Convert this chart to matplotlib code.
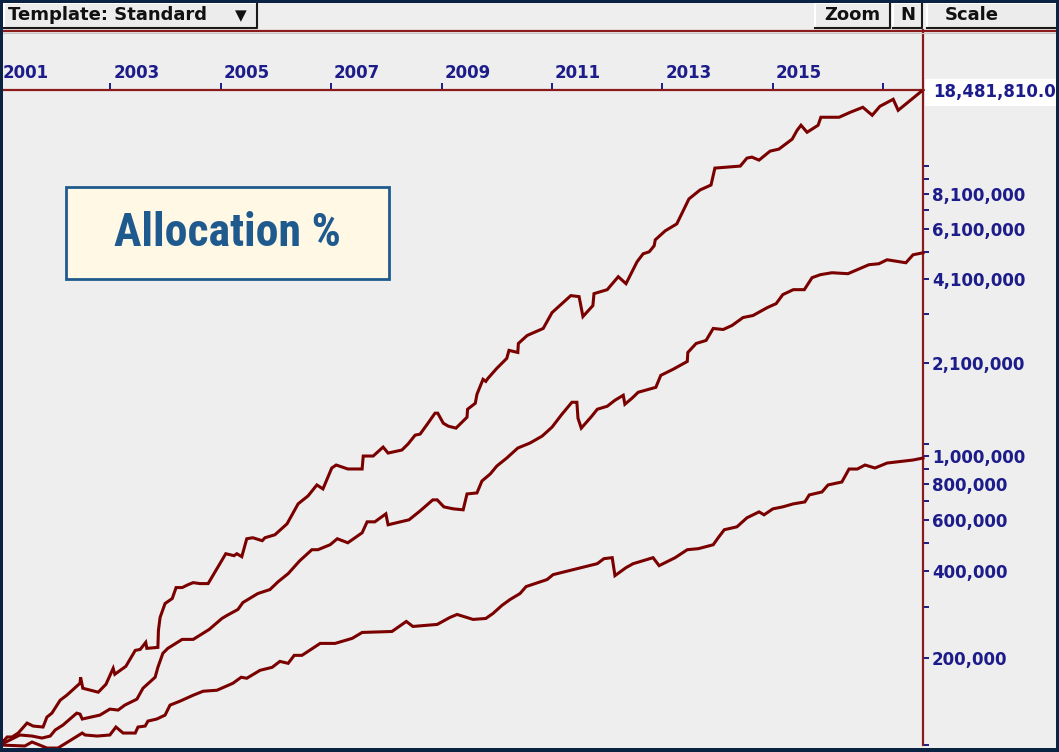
import matplotlib
matplotlib.use("Agg")
import matplotlib.pyplot as plt
from matplotlib.patches import Rectangle
from matplotlib.lines import Line2D
from matplotlib import font_manager as fm
from matplotlib.transforms import ScaledTranslation
import matplotlib.ticker as mticker

# ---------------- data ----------------
top_years = [2001.00, 2001.13, 2001.22, 2001.33, 2001.49, 2001.60, 2001.78, 2001.85, 2001.94, 2002.09,
             2002.21, 2002.45, 2002.46, 2002.50, 2002.78, 2002.92, 2003.05, 2003.08, 2003.28, 2003.45,
             2003.54, 2003.64, 2003.66, 2003.86, 2003.87, 2003.90, 2003.99, 2004.12, 2004.19, 2004.30,
             2004.41, 2004.50, 2004.62, 2004.77, 2005.09, 2005.24, 2005.29, 2005.38, 2005.47, 2005.58,
             2005.75, 2005.80, 2005.98, 2006.20, 2006.40, 2006.58, 2006.74, 2006.85, 2007.01, 2007.09,
             2007.30, 2007.56, 2007.58, 2007.76, 2007.94, 2008.03, 2008.28, 2008.39, 2008.52, 2008.61,
             2008.74, 2008.88, 2008.93, 2009.03, 2009.12, 2009.26, 2009.46, 2009.47, 2009.61, 2009.64,
             2009.75, 2009.80, 2009.84, 2010.00, 2010.18, 2010.22, 2010.38, 2010.39, 2010.55, 2010.84,
             2011.00, 2011.34, 2011.49, 2011.56, 2011.74, 2011.76, 2012.00, 2012.20, 2012.34, 2012.54,
             2012.65, 2012.76, 2012.85, 2012.87, 2013.05, 2013.26, 2013.48, 2013.68, 2013.88, 2013.95,
             2014.41, 2014.53, 2014.62, 2014.75, 2014.95, 2015.11, 2015.35, 2015.44, 2015.51, 2015.62,
             2015.82, 2015.87, 2016.20, 2016.40, 2016.63, 2016.80, 2016.94, 2017.18, 2017.27, 2017.72]
top_values = [100000, 106600, 106600, 110000, 119100, 116300, 115400, 124900, 128900, 142900,
              148700, 163600, 171600, 157200, 152300, 162300, 184200, 175700, 187200, 212500,
              214200, 226500, 216000, 217700, 249100, 276400, 308800, 321300, 350600, 350600,
              359000, 364700, 361900, 361900, 459200, 452000, 459200, 448400, 517400, 521500,
              509400, 521500, 534000, 582800, 683100, 727800, 794300, 769500, 909100, 931000,
              902000, 902000, 1000000, 1000000, 1074000, 1024000, 1049000, 1100000, 1181000, 1191000,
              1289000, 1407000, 1407000, 1299000, 1269000, 1249000, 1363000, 1452000, 1523000, 1636000,
              1843000, 1813000, 1858000, 2012000, 2178000, 2321000, 2283000, 2452000, 2614000, 2764000,
              3136000, 3591000, 3562000, 3039000, 3317000, 3648000, 3765000, 4175000, 3949000, 4701000,
              5011000, 5090000, 5341000, 5600000, 6017000, 6359000, 7759000, 8330000, 8668000, 9920000,
              10080000, 10740000, 10826000, 10570000, 11356000, 11540000, 12494000, 13412000, 13958000, 13197000,
              13958000, 14874000, 14874000, 15469000, 16103000, 15112000, 16232000, 17166000, 15722000, 18481810]

mid_years = [2001.00, 2001.36, 2001.58, 2001.76, 2001.91, 2002.00, 2002.14, 2002.39, 2002.45, 2002.49,
             2002.81, 2002.99, 2003.14, 2003.26, 2003.48, 2003.59, 2003.81, 2003.86, 2003.95, 2004.04,
             2004.30, 2004.50, 2004.79, 2005.02, 2005.11, 2005.31, 2005.40, 2005.67, 2005.89, 2006.04,
             2006.22, 2006.43, 2006.65, 2006.76, 2006.98, 2007.11, 2007.30, 2007.56, 2007.65, 2007.79,
             2007.99, 2008.03, 2008.41, 2008.61, 2008.84, 2008.92, 2009.04, 2009.21, 2009.39, 2009.46,
             2009.64, 2009.73, 2009.88, 2010.00, 2010.18, 2010.38, 2010.60, 2010.82, 2011.00, 2011.18,
             2011.36, 2011.45, 2011.47, 2011.53, 2011.72, 2011.82, 2012.00, 2012.14, 2012.29, 2012.32,
             2012.45, 2012.56, 2012.88, 2012.97, 2013.19, 2013.45, 2013.46, 2013.61, 2013.79, 2013.92,
             2014.10, 2014.26, 2014.46, 2014.64, 2014.90, 2015.06, 2015.18, 2015.37, 2015.57, 2015.71,
             2015.86, 2016.07, 2016.36, 2016.74, 2016.92, 2017.07, 2017.41, 2017.54, 2017.72]
mid_values = [100000, 108300, 107400, 105700, 107400, 112700, 117200, 128900, 127900, 123000,
              126900, 133100, 132100, 137400, 144100, 157200, 171600, 185700, 207600, 216000,
              232000, 232000, 251200, 274100, 280700, 294500, 311200, 334300, 345100, 367600,
              391800, 434200, 474100, 474100, 493200, 517400, 501000, 542500, 592000, 592000,
              630900, 578200, 601700, 645800, 705200, 705200, 667000, 656600, 651500, 739400,
              745300, 819500, 866700, 923600, 984300, 1066000, 1109000, 1172000, 1259000, 1396000,
              1535000, 1535000, 1352000, 1249000, 1374000, 1452000, 1487000, 1560000, 1623000, 1511000,
              1586000, 1662000, 1729000, 1902000, 1995000, 2125000, 2283000, 2452000, 2512000, 2764000,
              2741000, 2830000, 3015000, 3064000, 3264000, 3369000, 3619000, 3765000, 3765000, 4142000,
              4242000, 4309000, 4276000, 4593000, 4629000, 4778000, 4665000, 4972000, 5051000]

low_years = [2001.00, 2001.45, 2001.58, 2001.76, 2001.85, 2002.05, 2002.49, 2002.54, 2002.76, 2002.99,
             2003.10, 2003.23, 2003.45, 2003.50, 2003.63, 2003.68, 2003.84, 2003.99, 2004.08, 2004.26,
             2004.50, 2004.68, 2004.93, 2005.22, 2005.37, 2005.47, 2005.71, 2005.93, 2006.07, 2006.22,
             2006.33, 2006.47, 2006.80, 2007.07, 2007.38, 2007.56, 2008.10, 2008.36, 2008.48, 2008.92,
             2009.15, 2009.28, 2009.57, 2009.80, 2009.93, 2010.09, 2010.24, 2010.42, 2010.53, 2010.91,
             2011.02, 2011.82, 2011.94, 2012.09, 2012.14, 2012.34, 2012.47, 2012.59, 2012.83, 2012.94,
             2013.23, 2013.45, 2013.65, 2013.92, 2014.01, 2014.12, 2014.35, 2014.53, 2014.75, 2014.84,
             2015.00, 2015.18, 2015.37, 2015.58, 2015.66, 2015.89, 2016.00, 2016.25, 2016.38, 2016.53,
             2016.67, 2016.85, 2017.07, 2017.54, 2017.72]
low_values = [100000, 99200, 102400, 99200, 97600, 97600, 110000, 108300, 107400, 108300,
              115400, 110000, 110000, 115400, 116300, 121000, 123000, 126900, 137400, 141800,
              148700, 153500, 154700, 163600, 171600, 170200, 181300, 185700, 194700, 191700,
              204300, 204300, 224700, 224700, 233900, 245200, 247100, 267600, 257200, 261400,
              276300, 283000, 272000, 274100, 285200, 303900, 318800, 334300, 353400, 373700,
              388700, 424200, 441400, 444900, 385600, 410900, 424200, 430900, 444900, 417500,
              444900, 474100, 478000, 493200, 521500, 555800, 569000, 611200, 640900, 626000,
              656400, 667000, 683100, 693800, 733600, 751100, 794300, 813200, 901700, 901700,
              931000, 909100, 945800, 968900, 984300]

year_ticks = [2001, 2003, 2005, 2007, 2009, 2011, 2013, 2015, 2017]
year_labels = ["2001", "2003", "2005", "2007", "2009", "2011", "2013", "2015", ""]
value_ticks = [200000, 400000, 600000, 800000, 1000000, 2100000, 4100000, 6100000, 8100000]
value_labels = ["200,000", "400,000", "600,000", "800,000", "1,000,000",
                "2,100,000", "4,100,000", "6,100,000", "8,100,000"]
minor_value_ticks = [100000, 300000, 500000, 700000, 900000, 1100000,
                     3100000, 5100000, 7100000, 9100000, 10100000]
last_value_label = "18,481,810.0"
y_min, y_max = 100000, 18481810
x_min, x_max = 2001.0, 2017.72
title_text = "Allocation %"

# ---------------- style ----------------
W, H = 1059, 752
BG = "#eeeeee"
NAVY_FRAME = "#0b2342"
MAROON = "#7a0000"
AXIS_RED = "#8b1a1a"
LABEL_BLUE = "#1c1c8a"
BOX_BLUE = "#1f5a8f"

names = {f.name for f in fm.fontManager.ttflist}
narrow = None
for cand in ["Liberation Sans Narrow", "Roboto Condensed", "Open Sans Condensed", "DejaVu Sans Condensed"]:
    if cand in names:
        narrow = cand
        break

fig = plt.figure(figsize=(W / 100, H / 100), dpi=100)
fig.patch.set_facecolor(BG)


def fx(px):
    return px / W


def fy(py):
    return 1 - py / H


def frect(x0, y0, x1, y1, **kw):
    r = Rectangle((fx(x0), fy(y1)), (x1 - x0) / W, (y1 - y0) / H,
                  transform=fig.transFigure, **kw)
    fig.add_artist(r)
    return r


def fline(xs, ys, **kw):
    ln = Line2D([fx(x) for x in xs], [fy(y) for y in ys], transform=fig.transFigure, **kw)
    fig.add_artist(ln)
    return ln


# ---------------- main axes ----------------
ax = fig.add_axes([fx(0), fy(745), 923 / W, (745 - 90) / H])
ax.set_facecolor(BG)
ax.set_yscale("log")
ax.set_xlim(x_min, x_max)
ax.set_ylim(y_min, y_max)

for xs, ys in [(low_years, low_values), (mid_years, mid_values), (top_years, top_values)]:
    ax.plot(xs, ys, color=MAROON, lw=2.2, clip_on=False, solid_joinstyle="miter", zorder=3)

# right value axis
ax.yaxis.tick_right()
ax.yaxis.set_major_locator(mticker.FixedLocator(value_ticks))
ax.yaxis.set_major_formatter(mticker.FixedFormatter(value_labels))
ax.yaxis.set_minor_locator(mticker.FixedLocator(minor_value_ticks))
ax.yaxis.set_minor_formatter(mticker.NullFormatter())
ax.tick_params(axis="y", which="both", direction="out", length=4.3, width=1.4,
               color=LABEL_BLUE, labelcolor=LABEL_BLUE, pad=2.2, labelsize=12)
for lbl in ax.get_yticklabels():
    lbl.set_fontweight("bold")
    lbl.set_family("DejaVu Sans")

# top year axis
ax.xaxis.tick_top()
ax.set_xticks(year_ticks)
ax.set_xticklabels(year_labels)
ax.tick_params(axis="x", which="both", direction="out", length=4.8, width=1.4,
               color=LABEL_BLUE, labelcolor=LABEL_BLUE, pad=0.8, labelsize=12)
offset = ScaledTranslation(2 / 72, 0, fig.dpi_scale_trans)
for lbl in ax.get_xticklabels():
    lbl.set_fontweight("bold")
    lbl.set_family("DejaVu Sans")
    lbl.set_horizontalalignment("left")
    lbl.set_transform(lbl.get_transform() + offset)

for s in ["left", "bottom"]:
    ax.spines[s].set_visible(False)
for s in ["top", "right"]:
    ax.spines[s].set_color(AXIS_RED)
    ax.spines[s].set_linewidth(1.6)

# vertical divider continuing above the plot and red rule under the toolbar
fline([923, 923], [30, 90], color=AXIS_RED, lw=1.6, zorder=4)
fline([0, W], [30.5, 30.5], color=AXIS_RED, lw=1.6, zorder=4)
fline([0, W], [32.5, 32.5], color="#c8c8c8", lw=0.8, zorder=4)

# current-value label with white background
frect(925, 79, 1059, 106, facecolor="white", edgecolor="none", zorder=4)
fig.text(fx(933), fy(92), last_value_label, color=LABEL_BLUE, fontsize=12,
         fontweight="bold", family="DejaVu Sans", ha="left", va="center", zorder=5)

# ---------------- toolbar ----------------
def button(x0, y0, x1, y1):
    frect(x0, y0, x1, y1, facecolor="#ececec", edgecolor="none", zorder=6)
    fline([x0, x0, x1], [y1, y0, y0], color="white", lw=1.5, zorder=7)
    fline([x0, x1, x1], [y1, y1, y0], color="#1a1a1a", lw=1.5, zorder=7)


button(4, 3, 257, 28)
fig.text(fx(8), fy(15.5), "Template: Standard", fontsize=13, fontweight="bold",
         family="DejaVu Sans", color="#111111", ha="left", va="center", zorder=8)
fig.text(fx(241), fy(15.5), "\u25bc", fontsize=11, family="DejaVu Sans",
         color="#111111", ha="center", va="center", zorder=8)
button(815, 3, 890, 28)
fig.text(fx(852), fy(15.5), "Zoom", fontsize=13, fontweight="bold",
         family="DejaVu Sans", color="#111111", ha="center", va="center", zorder=8)
button(893, 3, 922, 28)
fig.text(fx(907.5), fy(15.5), "N", fontsize=13, fontweight="bold",
         family="DejaVu Sans", color="#111111", ha="center", va="center", zorder=8)
button(927, 3, 1059, 28)
fig.text(fx(945), fy(15.5), "Scale", fontsize=13, fontweight="bold",
         family="DejaVu Sans", color="#111111", ha="left", va="center", zorder=8)

# ---------------- title box ----------------
frect(66, 187, 389, 279, facecolor="#fef8e4", edgecolor=BOX_BLUE, linewidth=2.0, zorder=5)
if narrow is not None:
    fig.text(fx(227.5), fy(233), title_text, fontsize=33, fontweight="bold", family=narrow,
             color=BOX_BLUE, ha="center", va="center", zorder=6)
else:
    fig.text(fx(227.5), fy(233), title_text, fontsize=27, fontweight="bold",
             family="Liberation Sans", color=BOX_BLUE, ha="center", va="center", zorder=6)

# ---------------- outer navy frame ----------------
frect(0, 0, W, 3, facecolor=NAVY_FRAME, edgecolor="none", zorder=20)
frect(0, 748, W, H, facecolor=NAVY_FRAME, edgecolor="none", zorder=20)
frect(0, 0, 3, H, facecolor=NAVY_FRAME, edgecolor="none", zorder=20)
frect(1056, 0, W, H, facecolor=NAVY_FRAME, edgecolor="none", zorder=20)

fig.savefig("out.png", dpi=100, facecolor=fig.get_facecolor())
